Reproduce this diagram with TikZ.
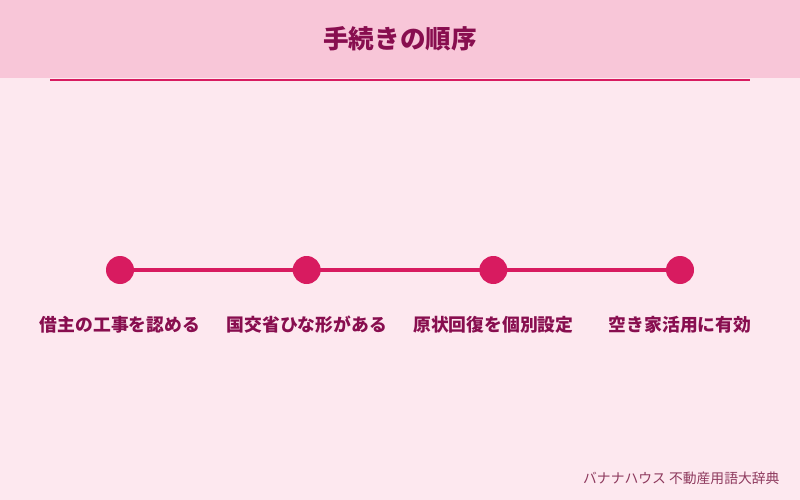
\documentclass[tikz,border=0pt]{standalone}
\usepackage{fontspec}
\setmainfont{Noto Sans CJK JP}
\definecolor{bgpink}{HTML}{FDE8EF}
\definecolor{headpink}{HTML}{F8C6D8}
\definecolor{accent}{HTML}{D81B60}
\definecolor{darktext}{HTML}{880E4F}
\definecolor{foottext}{HTML}{8E3A5E}
\begin{document}
\begin{tikzpicture}[x=1pt,y=-1pt,
  dot/.style={circle,fill=accent,minimum size=28pt,inner sep=0pt},
  lbl/.style={text=darktext,font=\fontsize{17.8}{20}\selectfont\bfseries},
  conn/.style={draw=accent,line width=4pt}]
\useasboundingbox (0,0) rectangle (800,500);
\fill[bgpink] (0,0) rectangle (800,500);
\fill[headpink] (0,0) rectangle (800,78);
\draw[accent,line width=2pt] (50,80.5) -- (750,80.5);
\node[text=darktext,font=\fontsize{25.6}{28}\selectfont\bfseries] (title) at (400,39) {手続きの順序};
\coordinate (p1) at (120,270);
\coordinate (p2) at (306.7,270);
\coordinate (p3) at (493.3,270);
\coordinate (p4) at (680,270);
\draw[conn] (p1) -- (p2) -- (p3) -- (p4);
\node[dot] (d1) at (p1) {};
\node[dot] (d2) at (p2) {};
\node[dot] (d3) at (p3) {};
\node[dot] (d4) at (p4) {};
\node[lbl] (l1) at (120,325) {借主の工事を認める};
\node[lbl] (l2) at (306.7,325) {国交省ひな形がある};
\node[lbl] (l3) at (493.3,325) {原状回復を個別設定};
\node[lbl] (l4) at (680,325) {空き家活用に有効};
\node[text=foottext,font=\fontsize{13.8}{16}\selectfont,anchor=east] (foot) at (783,478) {バナナハウス 不動産用語大辞典};
\end{tikzpicture}
\end{document}
